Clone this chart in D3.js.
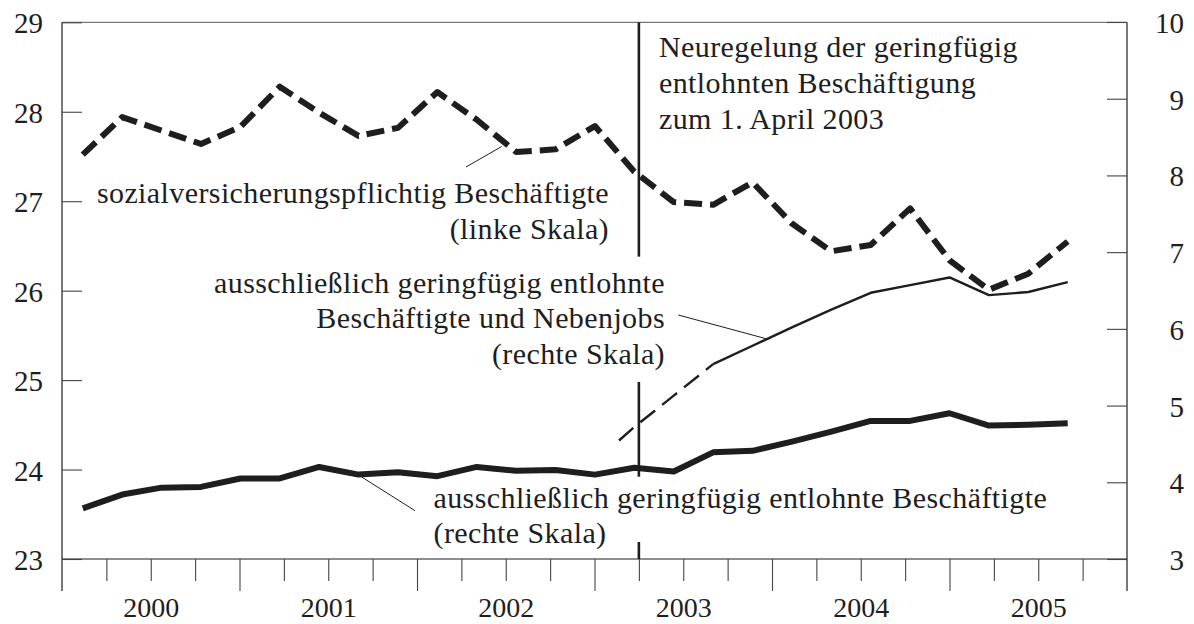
<!DOCTYPE html>
<html>
<head>
<meta charset="utf-8">
<script src="https://cdn.jsdelivr.net/npm/d3@7"></script>
<style>
  html, body { margin: 0; padding: 0; background: #fff; }
</style>
</head>
<body>
<svg id="chart" width="1194" height="624"></svg>
<script>
const years = [2000, 2001, 2002, 2003, 2004, 2005];
const leftTicks = [23, 24, 25, 26, 27, 28, 29];
const rightTicks = [3, 4, 5, 6, 7, 8, 9, 10];

// sozialversicherungspflichtig Beschäftigte (linke Skala, Mio.)
const svBeschaeftigte = [27.52, 27.94, 27.79, 27.64, 27.83, 28.28, 27.99, 27.73, 27.82, 28.22,
  27.91, 27.55, 27.58, 27.84, 27.33, 26.99, 26.96, 27.21, 26.75, 26.44,
  26.51, 26.92, 26.34, 26.01, 26.19, 26.55];

// ausschließlich geringfügig entlohnte Beschäftigte (rechte Skala, Mio.)
const geringfuegig = [3.66, 3.84, 3.93, 3.94, 4.05, 4.05, 4.20, 4.10, 4.13, 4.08,
  4.20, 4.15, 4.16, 4.10, 4.19, 4.14, 4.39, 4.41, 4.53, 4.66,
  4.80, 4.80, 4.90, 4.74, 4.75, 4.77];

// ausschließlich geringfügig entlohnte Beschäftigte und Nebenjobs (rechte Skala, Mio.)
// null = keine Angabe
const mitNebenjobs = [null, null, null, null, null, null, null, null, null, null,
  null, null, null, 4.27, 4.72, 5.13, 5.54, 5.78, 6.02, 6.25,
  6.47, 6.57, 6.67, 6.44, 6.48, 6.61];
const nebenjobsEstimatedUntil = 16; // dashed part up to this index

const reformDate = 2003.25; // 1. April 2003

const svg = d3.select("#chart");
const plotLeft = 62, plotRight = 1127, plotTop = 22.3, plotBottom = 559;
const ink = "#1e1e1e";

const xYear = d3.scaleLinear().domain([2000, 2006]).range([plotLeft, plotRight]);
const x = d3.scalePoint()
  .domain(d3.range(svBeschaeftigte.length))
  .range([xYear(2000.117), xYear(2005.666)]);
const yL = d3.scaleLinear().domain([23, 29]).range([plotBottom, plotTop]);
const yR = d3.scaleLinear().domain([3, 10]).range([plotBottom, 22]);

// frame
svg.append("line").attr("x1", plotLeft).attr("x2", plotRight).attr("y1", plotTop).attr("y2", plotTop)
  .attr("stroke", "#555").attr("stroke-width", 1);
svg.append("line").attr("x1", plotLeft).attr("x2", plotRight).attr("y1", plotBottom).attr("y2", plotBottom)
  .attr("stroke", ink).attr("stroke-width", 1.2);
svg.append("line").attr("x1", plotLeft).attr("x2", plotLeft).attr("y1", plotTop).attr("y2", 591)
  .attr("stroke", ink).attr("stroke-width", 1.2);
svg.append("line").attr("x1", plotRight).attr("x2", plotRight).attr("y1", plotTop).attr("y2", 591)
  .attr("stroke", ink).attr("stroke-width", 1.2);

function styleText(sel, size) {
  sel.style("font-family", '"Liberation Serif"').style("font-size", (size || 28) + "px").attr("fill", ink);
}

// left axis
const axL = svg.append("g").attr("transform", `translate(${plotLeft},0)`)
  .call(d3.axisLeft(yL).tickValues(leftTicks).tickFormat(d3.format("d"))
    .tickSizeInner(-20).tickSizeOuter(0).tickPadding(19));
axL.select(".domain").remove();
axL.selectAll("line").attr("stroke", "#444").attr("stroke-width", 1.1);
axL.selectAll("text").call(styleText, 29).attr("dy", "0.36em");

// right axis
const axR = svg.append("g").attr("transform", `translate(${plotRight},0)`)
  .call(d3.axisRight(yR).tickValues(rightTicks).tickFormat(d3.format("d"))
    .tickSizeInner(-20).tickSizeOuter(0));
axR.select(".domain").remove();
axR.selectAll("line").attr("stroke", "#444").attr("stroke-width", 1.1);
axR.selectAll("text").call(styleText, 29).attr("dy", "0.36em")
  .attr("x", 57).attr("text-anchor", "end");

// bottom axis: quarter ticks, year ticks, year labels
const quarters = d3.range(2000, 2006, 0.25).filter(q => q % 1 !== 0);
const axQ = svg.append("g").attr("transform", `translate(0,${plotBottom})`)
  .call(d3.axisBottom(xYear).tickValues(quarters).tickSize(22).tickFormat(""));
axQ.select(".domain").remove();
axQ.selectAll("line").attr("stroke", "#444").attr("stroke-width", 1.1);

const axY = svg.append("g").attr("transform", `translate(0,${plotBottom})`)
  .call(d3.axisBottom(xYear).tickValues(d3.range(2001, 2006)).tickSize(32).tickFormat(""));
axY.select(".domain").remove();
axY.selectAll("line").attr("stroke", "#444").attr("stroke-width", 1.1);

const axLbl = svg.append("g").attr("transform", `translate(0,${plotBottom})`)
  .call(d3.axisBottom(xYear).tickValues(years.map(y => y + 0.5)).tickSize(0).tickPadding(38)
    .tickFormat(d => String(Math.floor(d))));
axLbl.select(".domain").remove();
axLbl.selectAll("text").call(styleText, 28);

// reform marker, interrupted where the labels sit (given on the left scale)
const reformSegments = [[29, 26.38], [24.98, 23.92], [23.19, 23]];
svg.append("g").selectAll("line").data(reformSegments).join("line")
  .attr("x1", xYear(reformDate)).attr("x2", xYear(reformDate))
  .attr("y1", d => yL(d[0])).attr("y2", d => yL(d[1]))
  .attr("stroke", ink).attr("stroke-width", 2.6);

// series
const lineL = d3.line().defined(d => d != null).x((d, i) => x(i)).y(d => yL(d));
const lineR = d3.line().defined(d => d != null).x((d, i) => x(i)).y(d => yR(d));

svg.append("path").attr("d", lineL(svBeschaeftigte))
  .attr("fill", "none").attr("stroke", ink).attr("stroke-width", 6)
  .attr("stroke-dasharray", "18 8").attr("stroke-linejoin", "round");

svg.append("path").attr("d", lineR(geringfuegig))
  .attr("fill", "none").attr("stroke", ink).attr("stroke-width", 6)
  .attr("stroke-linejoin", "round");

const estPart = mitNebenjobs.map((d, i) => i <= nebenjobsEstimatedUntil ? d : null);
const solidPart = mitNebenjobs.map((d, i) => i >= nebenjobsEstimatedUntil ? d : null);
svg.append("path").attr("d", lineR(estPart))
  .attr("fill", "none").attr("stroke", ink).attr("stroke-width", 2.4)
  .attr("stroke-dasharray", "0 32 19 9 19 9 19 9 19 9 19 9 19 9");
svg.append("path").attr("d", lineR(solidPart))
  .attr("fill", "none").attr("stroke", ink).attr("stroke-width", 2.4)
  .attr("stroke-linejoin", "round");

// labels
function label(lines, xPos, baselines, anchor) {
  const t = svg.append("text").attr("text-anchor", anchor).call(styleText, 30)
    .style("letter-spacing", "0.4px");
  lines.forEach((s, i) => t.append("tspan").attr("x", xPos).attr("y", baselines[i]).text(s));
}
function leader(x1, y1, x2, y2) {
  svg.append("line").attr("x1", x1).attr("y1", y1).attr("x2", x2).attr("y2", y2)
    .attr("stroke", ink).attr("stroke-width", 1);
}

label(["Neuregelung der geringfügig", "entlohnten Beschäftigung", "zum 1. April 2003"],
  659, [57, 93, 128.5], "start");

label(["sozialversicherungspflichtig Beschäftigte", "(linke Skala)"],
  609, [203, 239], "end");
leader(466, 167, 501.7, 146.5);

label(["ausschließlich geringfügig entlohnte", "Beschäftigte und Nebenjobs", "(rechte Skala)"],
  665, [292.5, 328, 363.5], "end");
leader(678.3, 315, 768.3, 339.3);

label(["ausschließlich geringfügig entlohnte Beschäftigte", "(rechte Skala)"],
  433.5, [508, 543], "start");
leader(361.7, 477, 415, 510.7);
</script>
</body>
</html>
